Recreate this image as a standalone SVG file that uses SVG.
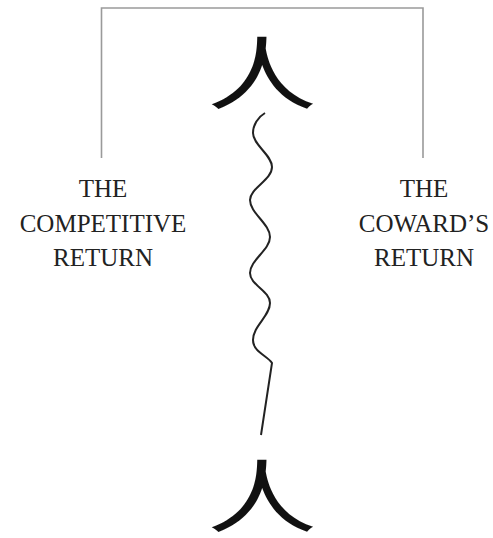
<svg xmlns="http://www.w3.org/2000/svg" width="493" height="538" viewBox="0 0 493 538">
<style>
.lbl{font-family:"Liberation Serif","DejaVu Serif",serif;font-size:25px;fill:#222;text-anchor:middle}
.cjk{font-family:"Noto Sans CJK SC","Noto Sans CJK JP",sans-serif;font-size:110px;fill:#111;text-anchor:middle}
.conn{fill:none}
</style>
<rect width="493" height="538" fill="#fff"/>
<g id="connectors" class="conn">
<path d="M101.5,158 V8 H423 V158" stroke="#9a9a9a" stroke-width="1.6"/>
<path d="M265,113 C258,117 253,125 253,133 C253,145 272,155 272,167 C272,180 250,188 250,200 C250,213 270,224 270,237 C270,250 250,260 250,273 C250,285 270,291 270,303 C270,316 253,326 253,340 C253,352 268,356 272,363 L261,435" stroke="#222" stroke-width="2"/>
</g>
<g id="top-char"><text class="cjk" x="0" y="0" transform="translate(262,103) scale(1,0.72)">人</text></g>
<g id="bottom-char"><text class="cjk" x="0" y="0" transform="translate(262,526) scale(1,0.72)">人</text></g>
<g id="left-label">
<text class="lbl" x="103" y="197">THE</text>
<text class="lbl" x="103" y="232">COMPETITIVE</text>
<text class="lbl" x="103" y="266">RETURN</text>
</g>
<g id="right-label">
<text class="lbl" x="424" y="197">THE</text>
<text class="lbl" x="424" y="232">COWARD’S</text>
<text class="lbl" x="424" y="266">RETURN</text>
</g>
</svg>
